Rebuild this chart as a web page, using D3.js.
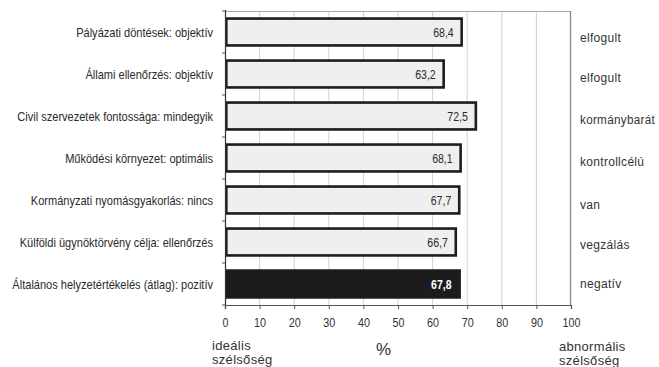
<!DOCTYPE html>
<html>
<head>
<meta charset="utf-8">
<script src="https://cdn.jsdelivr.net/npm/d3@7/dist/d3.min.js"></script>
<style>
  html, body { margin: 0; padding: 0; background: #fff; }
  svg { display: block; }
</style>
</head>
<body>
<script>
// Indicators, their average scores (0–100) and the opposite-pole labels
const categories = [
  "Pályázati döntések: objektív",
  "Állami ellenőrzés: objektív",
  "Civil szervezetek fontossága: mindegyik",
  "Működési környezet: optimális",
  "Kormányzati nyomásgyakorlás: nincs",
  "Külföldi ügynöktörvény célja: ellenőrzés",
  "Általános helyzetértékelés (átlag): pozitív"
];
const values = [68.4, 63.2, 72.5, 68.1, 67.7, 66.7, 67.8];
const valueLabels = ["68,4", "63,2", "72,5", "68,1", "67,7", "66,7", "67,8"];
const poleLabels = ["elfogult", "elfogult", "kormánybarát", "kontrollcélú", "van", "vegzálás", "negatív"];
const xTicks = [0, 10, 20, 30, 40, 50, 60, 70, 80, 90, 100];

(function () {
  const W = 659, H = 367;
  const pL = 225, pR = 571, pT = 11, pB = 305;
  const sans = "'Liberation Sans', Arial, Helvetica, sans-serif";
  const ink = "#2a2a2a";

  const svg = d3.select("body").append("svg").attr("width", W).attr("height", H);

  const x = d3.scaleLinear().domain([0, 100]).range([pL, pR]);
  const band = d3.scaleBand().domain(categories).range([pT, pB]);
  const y = d3.scaleBand().domain(categories).range([pT, pB]).paddingInner(0.36).paddingOuter(0.18);

  // narrow-face look: horizontally condensed text placed by transform
  function condensed(sel, fx, fy, s) {
    sel.attr("x", 0).attr("y", 0)
      .attr("transform", (d, i) => `translate(${fx(d, i)},${fy(d, i)}) scale(${s},1)`);
  }

  // vertical grid
  svg.append("g").selectAll("line").data(xTicks.slice(1, -1)).join("line")
    .attr("x1", d => x(d)).attr("x2", d => x(d))
    .attr("y1", pT).attr("y2", pB)
    .attr("stroke", "#d2d2d2").attr("stroke-width", 1);

  // frame: top and right borders
  svg.append("line").attr("x1", pL).attr("x2", pR).attr("y1", pT + 0.5).attr("y2", pT + 0.5)
    .attr("stroke", "#a8a8a8").attr("stroke-width", 1);
  svg.append("line").attr("x1", pR - 0.5).attr("x2", pR - 0.5).attr("y1", pT).attr("y2", pB)
    .attr("stroke", "#8a8a8a").attr("stroke-width", 1.3);

  // bars
  const last = categories.length - 1;
  svg.append("g").selectAll("rect").data(categories).join("rect")
    .attr("x", x(0) + 1.3)
    .attr("y", d => y(d))
    .attr("width", (d, i) => x(values[i]) - x(0) - 1.3)
    .attr("height", y.bandwidth())
    .attr("fill", (d, i) => i === last ? "#1c1c1c" : "#efefef")
    .attr("stroke", "#1c1c1c")
    .attr("stroke-width", 2.6);

  // value labels inside bars
  svg.append("g").selectAll("text").data(categories).join("text")
    .attr("text-anchor", "end")
    .attr("font-family", sans)
    .attr("font-size", 13.5)
    .attr("font-weight", (d, i) => i === last ? "bold" : "normal")
    .attr("fill", (d, i) => i === last ? "#fff" : ink)
    .text((d, i) => valueLabels[i])
    .call(condensed, (d, i) => x(values[i]) - 8, d => y(d) + y.bandwidth() / 2 + 5, 0.78);

  // left axis with ticks at band boundaries
  const leftAxis = svg.append("g");
  leftAxis.append("line").attr("x1", pL + 0.5).attr("x2", pL + 0.5).attr("y1", pT - 1).attr("y2", pB + 4)
    .attr("stroke", "#333").attr("stroke-width", 1.2);
  leftAxis.selectAll("line.t").data(categories.concat([null])).join("line").attr("class", "t")
    .attr("x1", pL - 3).attr("x2", pL)
    .attr("y1", (d, i) => pT + i * band.bandwidth())
    .attr("y2", (d, i) => pT + i * band.bandwidth())
    .attr("stroke", "#555");

  // category labels, condensed so the longest spans the label column
  const catText = svg.append("g").selectAll("text").data(categories).join("text")
    .attr("text-anchor", "end")
    .attr("font-family", sans)
    .attr("font-size", 13)
    .attr("fill", ink)
    .text(d => d);
  const widest = d3.max(catText.nodes(), n => n.getComputedTextLength());
  const catScale = Math.min(1, 201 / widest);
  catText.call(condensed, () => 213, d => band(d) + band.bandwidth() / 2 + 5, catScale);

  // pole labels on the right, kept inside the right margin
  const poleNudge = [2, 0, 0, 0, 1, -1, -4];
  const poleText = svg.append("g").selectAll("text").data(categories).join("text")
    .attr("x", 580)
    .attr("y", (d, i) => band(d) + band.bandwidth() / 2 + 8 + poleNudge[i])
    .attr("font-family", sans)
    .attr("font-size", 12)
    .attr("letter-spacing", 0.3)
    .attr("fill", "#333")
    .text((d, i) => poleLabels[i]);
  poleText.each(function () {
    const w = this.getComputedTextLength();
    if (w > 75) d3.select(this).attr("textLength", 75).attr("lengthAdjust", "spacingAndGlyphs");
  });

  // bottom axis
  const xAxis = d3.axisBottom(x).tickValues(xTicks).tickSize(4).tickPadding(6);
  const gx = svg.append("g").attr("transform", `translate(0,${pB})`).call(xAxis);
  gx.select(".domain").attr("stroke", "#555").attr("stroke-width", 1.2);
  gx.selectAll(".tick line").attr("stroke", "#555");
  gx.selectAll(".tick text")
    .attr("font-family", sans).attr("font-size", 13.5).attr("fill", "#333")
    .attr("dy", null)
    .call(condensed, () => 0, () => 22, 0.8);

  // axis captions
  const cap = svg.append("g").attr("font-family", sans).attr("font-size", 13)
    .attr("letter-spacing", 0.3).attr("fill", "#333");
  cap.append("text").attr("x", 212).attr("y", 350).text("ideális");
  cap.append("text").attr("x", 212).attr("y", 364).text("szélsőség");
  cap.append("text").attr("x", 376).attr("y", 355).attr("font-size", 17).attr("letter-spacing", 0).text("%");
  cap.append("text").attr("x", 559).attr("y", 351).text("abnormális");
  cap.append("text").attr("x", 559).attr("y", 365).text("szélsőség");
})();
</script>
</body>
</html>
